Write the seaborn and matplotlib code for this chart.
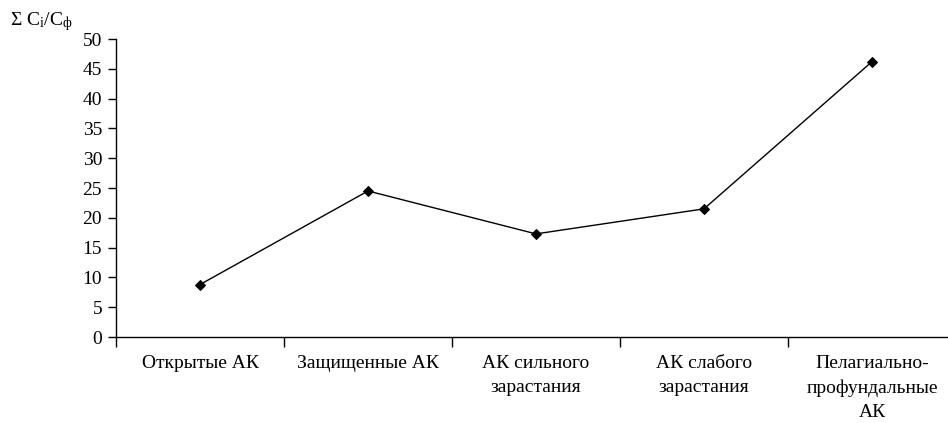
import matplotlib
matplotlib.use("Agg")
import matplotlib.pyplot as plt
import seaborn as sns
import pandas as pd
import numpy as np

categories = ["Открытые АК", "Защищенные АК", "АК сильного\nзарастания",
              "АК слабого\nзарастания", "Пелагиально-\nпрофундальные\nАК"]
values = [8.8, 24.5, 17.3, 21.5, 46.2]
yticks = [0, 5, 10, 15, 20, 25, 30, 35, 40, 45, 50]

sns.set_theme(style="ticks")
plt.rcParams['font.family'] = ['Liberation Serif', 'DejaVu Serif']
plt.rcParams['mathtext.fontset'] = 'custom'
plt.rcParams['mathtext.rm'] = 'Liberation Serif'
plt.rcParams['mathtext.it'] = 'Liberation Serif:italic'

df = pd.DataFrame({"cat": categories, "val": values})

fig = plt.figure(figsize=(9.48, 4.23), dpi=100)
ax = fig.add_axes([116/948, 86/423, 840/948, 298/423])

sns.lineplot(data=df, x="cat", y="val", ax=ax, sort=False, color="black",
             linewidth=1.0, marker="D", markersize=5, markeredgecolor="black",
             markerfacecolor="black")

ax.set_xlim(-0.5, 4.5)
ax.set_ylim(0, 50)
ax.set_yticks(yticks)
ax.set_yticklabels([str(v) for v in yticks], fontsize=14)
ax.set_xticks(range(len(categories)))
ax.set_xticklabels(categories, fontsize=14, linespacing=1.55)
ax.set_xticks(np.arange(-0.5, 4.6, 1.0), minor=True)
ax.tick_params(axis='x', which='major', length=0, pad=13, colors='black')
ax.tick_params(axis='x', which='minor', length=7, width=1, direction='out', color='black')
ax.tick_params(axis='y', length=6, width=1, direction='out', color='black', pad=4, labelcolor='black')
ax.set_xlabel("")
ax.set_ylabel("")
for s in ["top", "right"]:
    ax.spines[s].set_visible(False)
for s in ["left", "bottom"]:
    ax.spines[s].set_color("black")
    ax.spines[s].set_linewidth(1.0)

fig.text(10/948, 1 - 22/423, r"Σ C$_\mathrm{i}$/C$_\mathrm{ф}$", fontsize=14,
         ha="left", va="center", color="black")

fig.savefig("out.png", dpi=100)
